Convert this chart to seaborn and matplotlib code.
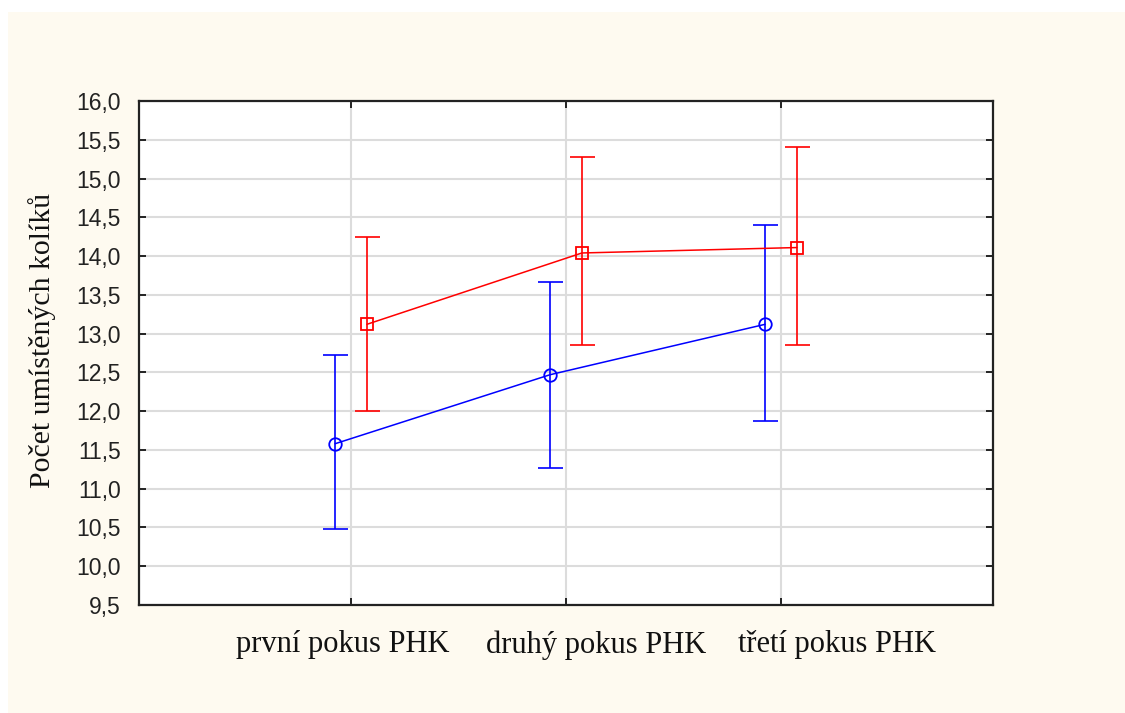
import numpy as np
import pandas as pd
import matplotlib
matplotlib.use("Agg")
import matplotlib.pyplot as plt
import matplotlib.transforms as mtransforms
from matplotlib.patches import Rectangle
from matplotlib.ticker import FuncFormatter, FixedLocator
import seaborn as sns

# --- data -------------------------------------------------------------
pokusy = ["první pokus PHK", "druhý pokus PHK", "třetí pokus PHK"]
skupiny = ["skupina 1", "skupina 2"]

prumer_1 = [11.58, 12.47, 13.12]
dolni_1 = [10.48, 11.27, 11.87]
horni_1 = [12.72, 13.67, 14.40]

prumer_2 = [13.12, 14.04, 14.11]
dolni_2 = [12.00, 12.85, 12.85]
horni_2 = [14.25, 15.28, 15.41]

y_ticks = [9.5, 10.0, 10.5, 11.0, 11.5, 12.0, 12.5, 13.0, 13.5, 14.0, 14.5, 15.0, 15.5, 16.0]
y_label = "Počet umístěných kolíků"

# --- style ------------------------------------------------------------
barvy = {skupiny[0]: "#0000ff", skupiny[1]: "#ff0000"}
znacky = {skupiny[0]: "o", skupiny[1]: "s"}
posun = {skupiny[0]: -0.074, skupiny[1]: 0.074}   # dodge of the two series
posun_popisku_px = [-8, 30, 56]                    # horizontal shift of category labels

sns.set_theme(style="white")
plt.rcParams["font.family"] = ["Liberation Sans", "DejaVu Sans"]
serif = ["Liberation Serif", "DejaVu Serif"]

rows = []
for sk, prum, dol, hor in [(skupiny[0], prumer_1, dolni_1, horni_1),
                           (skupiny[1], prumer_2, dolni_2, horni_2)]:
    for i, p in enumerate(pokusy):
        rows.append({"skupina": sk, "pokus": p, "x": i + posun[sk],
                     "prumer": prum[i], "dolni": dol[i], "horni": hor[i]})
df = pd.DataFrame(rows)

W, H = 1125, 713
fig = plt.figure(figsize=(W / 100, H / 100), dpi=100)
fig.patch.set_facecolor("white")
fig.add_artist(Rectangle((8 / W, 0), 1, (H - 12) / H, transform=fig.transFigure,
                         facecolor="#fefaf0", edgecolor="none", zorder=-5))

ax = fig.add_axes([139 / W, 108 / H, 854 / W, 504 / H])
ax.set_facecolor("white")

# error bars (confidence intervals)
for sk in skupiny:
    d = df[df["skupina"] == sk]
    ax.errorbar(d["x"], d["prumer"],
                yerr=[d["prumer"] - d["dolni"], d["horni"] - d["prumer"]],
                fmt="none", color=barvy[sk], ecolor=barvy[sk], elinewidth=1.2,
                capsize=9, capthick=1.2, zorder=3)

# means connected by lines
sns.lineplot(data=df, x="x", y="prumer", hue="skupina", style="skupina",
             markers=znacky, dashes=False, palette=barvy, sort=False,
             markersize=9, linewidth=1.1, legend=False, ax=ax, zorder=4)
for ln in ax.lines:
    if ln.get_marker() in ("o", "s"):
        ln.set_markeredgecolor(ln.get_color())
        ln.set_markerfacecolor("none")
        ln.set_markeredgewidth(1.3)

# axes
ax.set_xlim(-0.986, 2.986)
ax.set_ylim(9.5, 16.0)
ax.yaxis.set_major_locator(FixedLocator(y_ticks))
ax.yaxis.set_major_formatter(FuncFormatter(lambda v, p: f"{v:.1f}".replace(".", ",")))
ax.set_xticks(range(len(pokusy)))
ax.set_xticklabels(pokusy, family=serif, fontsize=22, color="#111111")
ax.set_xlabel("")
ax.set_ylabel(y_label, family=serif, fontsize=21.5, color="#111111")
ax.yaxis.set_label_coords(-0.114, 0.524)
ax.yaxis.label.set_va("center")

ax.grid(True, color="#dcdcdc", linewidth=1.5)
ax.set_axisbelow(True)
for s in ax.spines.values():
    s.set_visible(True)
    s.set_color("#222222")
    s.set_linewidth(1.6)

ax.tick_params(axis="both", direction="in", length=5, width=1.4, color="#222222",
               top=True, right=True, left=True, bottom=True)
ax.tick_params(axis="y", labelsize=16.5, labelcolor="#222222", pad=13)
ax.tick_params(axis="x", pad=18)

for lbl, dx in zip(ax.get_xticklabels(), posun_popisku_px):
    lbl.set_transform(lbl.get_transform() +
                      mtransforms.ScaledTranslation(dx / 100, 0, fig.dpi_scale_trans))

fig.savefig("out.png", dpi=100, facecolor=fig.get_facecolor())
